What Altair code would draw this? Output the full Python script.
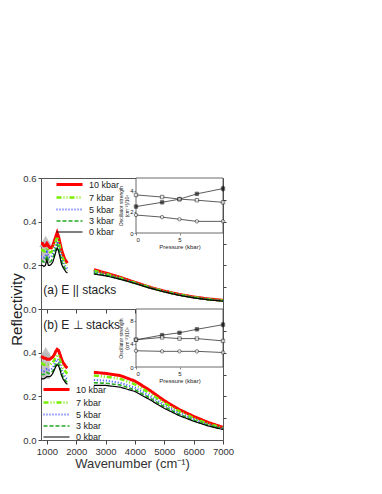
import altair as alt
import pandas as pd

FONT = "Liberation Sans"

pressures = ["10 kbar", "7 kbar", "5 kbar", "3 kbar", "0 kbar"]
colors = ["#ff0000", "#77ee00", "#4455ff", "#22aa22", "#000000"]
dashes = [[1, 0], [5, 2, 1, 2, 1, 2], [1, 2], [4, 2], [1, 0]]
widths = [3.0, 1.2, 1.2, 1.2, 1.5]

wn_low = [800, 850, 900, 950, 1000, 1050, 1100, 1150, 1200, 1250,
          1300, 1350, 1400, 1450, 1500, 1550, 1600, 1650, 1700]
wn_high = [2600, 3000, 3500, 4000, 4500, 5000, 5500, 6000, 6500, 7000]
wn_ticks = [1000, 2000, 3000, 4000, 5000, 6000, 7000]

# panel (a) E || stacks
a_low = {
    "10 kbar": [0.30, 0.30, 0.29, 0.29, 0.30, 0.29, 0.28, 0.28, 0.29, 0.31, 0.33, 0.35, 0.33, 0.30, 0.27, 0.25, 0.23, 0.22, 0.21],
    "7 kbar": [0.27, 0.27, 0.265, 0.265, 0.28, 0.265, 0.26, 0.26, 0.27, 0.29, 0.31, 0.33, 0.31, 0.28, 0.25, 0.23, 0.215, 0.205, 0.20],
    "5 kbar": [0.24, 0.24, 0.235, 0.24, 0.26, 0.24, 0.235, 0.24, 0.25, 0.27, 0.29, 0.31, 0.295, 0.27, 0.235, 0.215, 0.20, 0.19, 0.185],
    "3 kbar": [0.22, 0.22, 0.215, 0.22, 0.245, 0.22, 0.215, 0.22, 0.235, 0.25, 0.275, 0.295, 0.28, 0.25, 0.22, 0.20, 0.19, 0.18, 0.175],
    "0 kbar": [0.20, 0.20, 0.195, 0.20, 0.225, 0.20, 0.20, 0.205, 0.215, 0.235, 0.26, 0.28, 0.265, 0.235, 0.205, 0.19, 0.18, 0.17, 0.165],
}
a_high = {
    "10 kbar": [0.180, 0.165, 0.145, 0.122, 0.100, 0.082, 0.067, 0.055, 0.046, 0.040],
    "7 kbar": [0.175, 0.161, 0.142, 0.120, 0.099, 0.081, 0.066, 0.054, 0.045, 0.039],
    "5 kbar": [0.170, 0.158, 0.140, 0.119, 0.098, 0.080, 0.065, 0.053, 0.044, 0.038],
    "3 kbar": [0.165, 0.155, 0.138, 0.118, 0.097, 0.079, 0.064, 0.052, 0.043, 0.037],
    "0 kbar": [0.160, 0.152, 0.136, 0.117, 0.096, 0.078, 0.063, 0.051, 0.042, 0.036],
}
# panel (b) E perp stacks
b_low = {
    "10 kbar": [0.38, 0.38, 0.375, 0.375, 0.37, 0.37, 0.37, 0.375, 0.38, 0.39, 0.405, 0.415, 0.41, 0.39, 0.37, 0.355, 0.345, 0.335, 0.33],
    "7 kbar": [0.35, 0.35, 0.345, 0.345, 0.345, 0.345, 0.345, 0.35, 0.355, 0.365, 0.38, 0.39, 0.385, 0.365, 0.345, 0.33, 0.32, 0.31, 0.305],
    "5 kbar": [0.32, 0.32, 0.315, 0.32, 0.325, 0.32, 0.32, 0.325, 0.33, 0.345, 0.36, 0.37, 0.365, 0.345, 0.32, 0.305, 0.295, 0.285, 0.28],
    "3 kbar": [0.30, 0.30, 0.30, 0.305, 0.31, 0.305, 0.305, 0.31, 0.315, 0.33, 0.345, 0.355, 0.35, 0.33, 0.305, 0.29, 0.28, 0.27, 0.265],
    "0 kbar": [0.28, 0.28, 0.28, 0.285, 0.29, 0.29, 0.29, 0.295, 0.305, 0.32, 0.335, 0.345, 0.34, 0.32, 0.295, 0.28, 0.27, 0.26, 0.255],
}
b_high = {
    "10 kbar": [0.310, 0.305, 0.295, 0.270, 0.228, 0.180, 0.140, 0.108, 0.080, 0.058],
    "7 kbar": [0.295, 0.290, 0.280, 0.255, 0.215, 0.170, 0.132, 0.100, 0.074, 0.055],
    "5 kbar": [0.275, 0.272, 0.262, 0.240, 0.202, 0.160, 0.124, 0.095, 0.070, 0.052],
    "3 kbar": [0.262, 0.260, 0.252, 0.230, 0.193, 0.152, 0.118, 0.090, 0.067, 0.050],
    "0 kbar": [0.250, 0.250, 0.242, 0.222, 0.185, 0.145, 0.112, 0.086, 0.064, 0.048],
}

# pressure arrows (wavenumber, from, to)
arrow_a = [960, 0.21, 0.31]
arrow_b = [960, 0.28, 0.40]

# insets: oscillator strength vs pressure
p_kbar = [0, 3, 5, 7, 10]
inset_series = ["filled", "open square", "open circle"]
a_ins = {
    "filled": [2.5, 2.9, 3.2, 3.7, 4.2],
    "open square": [3.6, 3.4, 3.2, 3.1, 2.9],
    "open circle": [1.7, 1.5, 1.3, 1.1, 1.1],
}
a_err = 0.3
b_ins = {
    "filled": [4.7, 5.5, 5.9, 6.5, 7.3],
    "open square": [4.7, 5.1, 4.9, 4.9, 4.5],
    "open circle": [2.8, 2.7, 2.7, 2.7, 2.5],
}
b_err = 0.5

W, H = 182, 131


def curves_df(low, high):
    rows = []
    for p in pressures:
        for w, r in zip(wn_low, low[p]):
            rows.append(dict(wn=w, R=r, p=p, seg="low"))
        for w, r in zip(wn_high, high[p]):
            rows.append(dict(wn=w, R=r, p=p, seg="high"))
    return pd.DataFrame(rows)


def panel(low, high, label, label_y, leg_x, leg_y, arrow, ins, err, ydom,
          yrange, yvals, show_x, ytitle):
    df = curves_df(low, high)
    xs = alt.Scale(domain=[800, 7000], nice=False, zero=False)
    ys = alt.Scale(domain=[0, 0.6], nice=False, zero=False)
    xaxis = alt.Axis(values=wn_ticks, format="d",
                     labels=show_x, title="Wavenumber (cm⁻¹)" if show_x else None,
                     tickSize=4, labelFontSize=9.5, titleFontSize=13, labelOverlap=False,
                     labelSeparation=0, labelBound=False, labelFlush=False,
                     titleFontWeight="normal", labelColor="#333", titleColor="#333",
                     domain=False, grid=False, tickColor="#444", titlePadding=2,
                     labelPadding=2)
    yaxis_kw = dict(values=[0, 0.2, 0.4, 0.6] if ytitle else [0, 0.2, 0.4],
                    format=".1f", tickSize=3, labelFontSize=9.5, labelColor="#333",
                    domain=False, grid=False, tickColor="#444", labelPadding=2,
                    labelOverlap=False)
    if ytitle:
        yaxis = alt.Axis(title="Reflectivity", titleFontSize=15, titleFontWeight="normal",
                         titleColor="#222", titleY=H, titleX=-17, titleAngle=270,
                         titleBaseline="bottom", titleAlign="center", **yaxis_kw)
    else:
        yaxis = alt.Axis(title=None, **yaxis_kw)

    legend = alt.Legend(orient="none", legendX=leg_x, legendY=leg_y, title=None,
                        symbolType="M-2.6,0H2.6", symbolSize=100, labelFontSize=9,
                        labelColor="#222", rowPadding=0, labelOffset=13)
    lines = alt.Chart(df).mark_line(clip=True).encode(
        x=alt.X("wn:Q", scale=xs, axis=xaxis),
        y=alt.Y("R:Q", scale=ys, axis=yaxis),
        color=alt.Color("p:N", scale=alt.Scale(domain=pressures, range=colors), legend=legend),
        strokeDash=alt.StrokeDash("p:N", scale=alt.Scale(domain=pressures, range=dashes), legend=legend),
        strokeWidth=alt.StrokeWidth("p:N", scale=alt.Scale(domain=pressures, range=widths), legend=legend),
        detail="seg:N",
        order=alt.Order("wn:Q"),
    )
    adf = pd.DataFrame({"wn": [arrow[0]], "lo": [arrow[1]], "hi": [arrow[2]]})
    arr_body = alt.Chart(adf).mark_rule(color="#b8b8b8", strokeWidth=8, opacity=0.85).encode(
        x=alt.X("wn:Q", scale=xs, axis=xaxis), y=alt.Y("lo:Q", scale=ys, axis=yaxis), y2="hi:Q")
    arr_head = alt.Chart(adf).mark_point(shape="triangle-up", filled=True, color="#b8b8b8",
                                         size=170, opacity=0.85).encode(
        x=alt.X("wn:Q", scale=xs, axis=xaxis), y=alt.Y("hi:Q", scale=ys, axis=yaxis))
    tdf = pd.DataFrame({"t": [label], "wn": [880], "R": [label_y]})
    txt = alt.Chart(tdf).mark_text(
        align="left", baseline="middle", fontSize=12, color="#222").encode(
        x=alt.X("wn:Q", scale=xs, axis=xaxis), y=alt.Y("R:Q", scale=ys, axis=yaxis), text="t:N")
    main = alt.layer(arr_body, arr_head, lines, txt)

    # mirrored ticks on the right edge
    mirror = alt.Chart(tdf).mark_point(opacity=0).encode(
        x=alt.X("wn:Q", scale=xs, axis=None),
        y=alt.Y("R:Q", scale=ys, axis=alt.Axis(orient="right", labels=False, title=None,
                                                values=[0.1, 0.2, 0.3, 0.4, 0.5],
                                                tickSize=3, domain=False, grid=False,
                                                tickColor="#444")))

    # inset
    ix = alt.Scale(domain=[0, 10], range=[95, W], nice=False, zero=False)
    iy = alt.Scale(domain=ydom, range=yrange, nice=False, zero=False)
    ixaxis = alt.Axis(orient="bottom", offset=-(H - yrange[0]), values=[0, 5],
                      title="Pressure (kbar)", titleFontSize=6, titleFontWeight="normal",
                      labelFontSize=6, tickSize=2, titlePadding=1, labelPadding=1,
                      domain=False, grid=False, labelColor="#222", titleColor="#222")
    iyaxis = alt.Axis(orient="left", offset=-95, values=yvals,
                      title=["Oscillator strength", "(cm⁻²)/10⁶"], titleFontSize=5,
                      titleFontWeight="normal", labelFontSize=6, tickSize=2,
                      titlePadding=1, labelPadding=1, domain=False, grid=False,
                      labelColor="#222", titleColor="#222", titleLineHeight=6,
                      titleX=-13, titleY=yrange[0] / 2, titleAngle=270,
                      titleAlign="center", titleBaseline="bottom")
    fdf = pd.DataFrame({"x0": [0], "x1": [10], "y0": [ydom[0]], "y1": [ydom[1]]})
    frame = alt.Chart(fdf).mark_rect(fill="white", stroke="#444", strokeWidth=0.8).encode(
        x=alt.X("x0:Q", scale=ix, axis=ixaxis), x2="x1:Q",
        y=alt.Y("y0:Q", scale=iy, axis=iyaxis), y2="y1:Q")
    rows = []
    for s in inset_series:
        for p, v in zip(p_kbar, ins[s]):
            rows.append(dict(P=p, v=v, s=s))
    idf = pd.DataFrame(rows)
    ilines = alt.Chart(idf).mark_line(color="#333", strokeWidth=0.8).encode(
        x="P:Q", y="v:Q", detail="s:N")
    ipts = alt.Chart(idf).mark_point(filled=True, size=12, stroke="#222", strokeWidth=0.8).encode(
        x="P:Q", y="v:Q",
        shape=alt.Shape("s:N", scale=alt.Scale(domain=inset_series, range=["square", "square", "circle"]), legend=None),
        fill=alt.Fill("s:N", scale=alt.Scale(domain=inset_series, range=["#111", "white", "white"]), legend=None),
    )
    edf = pd.DataFrame({"P": [p_kbar[-1]], "lo": [ins["filled"][-1] - err], "hi": [ins["filled"][-1] + err]})
    ierr = alt.Chart(edf).mark_rule(color="#222", strokeWidth=0.8).encode(x="P:Q", y="lo:Q", y2="hi:Q")
    inset = alt.layer(frame, ilines, ierr, ipts)

    return alt.layer(main, mirror, inset).resolve_scale(
        x="independent", y="independent").properties(width=W, height=H)


top = panel(a_low, a_high, "(a) E || stacks", 0.085, 22, 0, arrow_a, a_ins, a_err,
            [0, 5.2], [55, 0], [0, 2, 4], False, True)
bottom = panel(b_low, b_high, "(b) E ⊥ stacks", 0.525, 9, 74, arrow_b, b_ins, b_err,
               [0, 10], [58, 0], [0, 2, 4, 6, 8], True, False)

chart = alt.vconcat(top, bottom, spacing=0, bounds="flush").resolve_scale(
    color="independent", strokeDash="independent", strokeWidth="independent"
).properties(
    padding={"left": 0, "top": 164, "right": 5, "bottom": 5}
).configure(font=FONT).configure_view(stroke="#555", strokeWidth=1)

chart.save("out.html", embed_options={"renderer": "svg", "actions": False})
